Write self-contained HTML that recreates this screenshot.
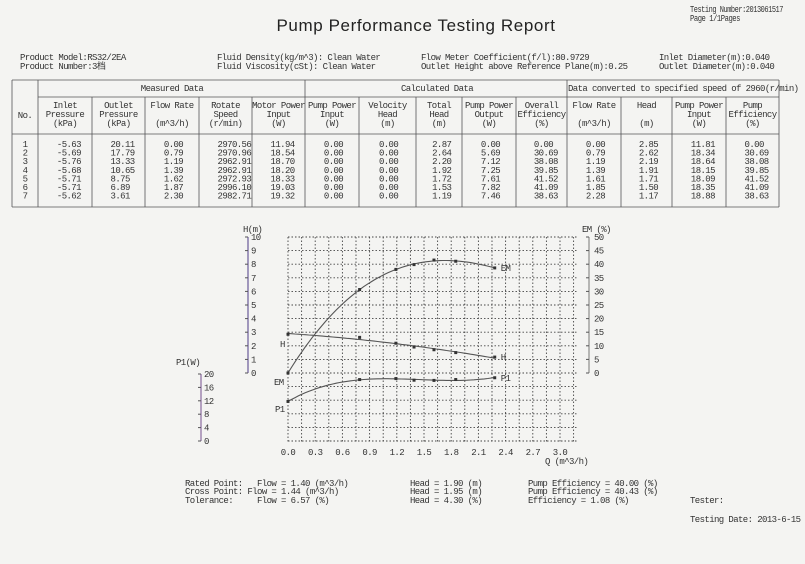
<!DOCTYPE html>
<html><head><meta charset="utf-8"><style>
html,body{margin:0;padding:0;background:#f4f4f2;}
svg{display:block;}
text{font-family:"Liberation Mono","Noto Sans CJK SC",monospace;font-size:9px;letter-spacing:-0.6px;fill:#333;}
.t{font-family:"Liberation Sans",sans-serif;font-size:17px;letter-spacing:0.6px;fill:#222;}
.c{text-anchor:middle;}
</style></head><body>
<svg id="page" width="805" height="564" viewBox="0 0 805 564" xmlns="http://www.w3.org/2000/svg">
<rect width="805" height="564" fill="#f4f4f2"/>
<text class="t" x="416" y="31" text-anchor="middle">Pump Performance Testing Report</text>
<text x="690" y="12" textLength="93" lengthAdjust="spacingAndGlyphs">Testing Number:2013061517</text>
<text x="690" y="21" textLength="50" lengthAdjust="spacingAndGlyphs">Page 1/1Pages</text>
<g>
<text x="20" y="60">Product Model:RS32/2EA</text>
<text x="20" y="69">Product Number:3档</text>
<text x="217" y="60">Fluid Density(kg/m^3): Clean Water</text>
<text x="217" y="69">Fluid Viscosity(cSt): Clean Water</text>
<text x="421" y="60">Flow Meter Coefficient(f/l):80.9729</text>
<text x="421" y="69">Outlet Height above Reference Plane(m):0.25</text>
<text x="659" y="60">Inlet Diameter(m):0.040</text>
<text x="659" y="69">Outlet Diameter(m):0.040</text>
</g>
<g id="table"></g>
<g id="chart"></g>
<g>
<text x="185" y="486" xml:space="preserve">Rated Point:   Flow = 1.40 (m^3/h)</text>
<text x="185" y="494" xml:space="preserve">Cross Point: Flow = 1.44 (m^3/h)</text>
<text x="185" y="503" xml:space="preserve">Tolerance:     Flow = 6.57 (%)</text>
<text x="410" y="486">Head = 1.90 (m)</text>
<text x="410" y="494">Head = 1.95 (m)</text>
<text x="410" y="503">Head = 4.30 (%)</text>
<text x="528" y="486">Pump Efficiency = 40.00 (%)</text>
<text x="528" y="494">Pump Efficiency = 40.43 (%)</text>
<text x="528" y="503">Efficiency = 1.08 (%)</text>
<text x="690" y="503">Tester:</text>
<text x="690" y="522">Testing Date: 2013-6-15</text>
</g>
</svg>
<script>
const NS="http://www.w3.org/2000/svg";
// ---- table data ----
const colHeaders=[["No."],["Inlet","Pressure","(kPa)"],["Outlet","Pressure","(kPa)"],["Flow Rate","","(m^3/h)"],["Rotate","Speed","(r/min)"],["Motor Power","Input","(W)"],["Pump Power","Input","(W)"],["Velocity","Head","(m)"],["Total","Head","(m)"],["Pump Power","Output","(W)"],["Overall","Efficiency","(%)"],["Flow Rate","","(m^3/h)"],["Head","","(m)"],["Pump Power","Input","(W)"],["Pump","Efficiency","(%)"]];
const tableRows=[
["1","-5.63","20.11","0.00","2970.56","11.94","0.00","0.00","2.87","0.00","0.00","0.00","2.85","11.81","0.00"],
["2","-5.69","17.79","0.79","2970.96","18.54","0.00","0.00","2.64","5.69","30.69","0.79","2.62","18.34","30.69"],
["3","-5.76","13.33","1.19","2962.91","18.70","0.00","0.00","2.20","7.12","38.08","1.19","2.19","18.64","38.08"],
["4","-5.68","10.65","1.39","2962.91","18.20","0.00","0.00","1.92","7.25","39.85","1.39","1.91","18.15","39.85"],
["5","-5.71","8.75","1.62","2972.93","18.33","0.00","0.00","1.72","7.61","41.52","1.61","1.71","18.09","41.52"],
["6","-5.71","6.89","1.87","2996.10","19.03","0.00","0.00","1.53","7.82","41.09","1.85","1.50","18.35","41.09"],
["7","-5.62","3.61","2.30","2982.71","19.32","0.00","0.00","1.19","7.46","38.63","2.28","1.17","18.88","38.63"]];
// ---- chart data ----
const flow=[0.00,0.79,1.19,1.39,1.61,1.85,2.28];
const headVals=[2.85,2.62,2.19,1.91,1.71,1.50,1.17];
const effVals=[0.00,30.69,38.08,39.85,41.52,41.09,38.63];
const powerVals=[11.81,18.34,18.64,18.15,18.09,18.35,18.88];
const xTicks=["0.0","0.3","0.6","0.9","1.2","1.5","1.8","2.1","2.4","2.7","3.0"];
const hTicks=[0,1,2,3,4,5,6,7,8,9,10];
const effTicks=[0,5,10,15,20,25,30,35,40,45,50];
const pTicks=[0,4,8,12,16,20];

function el(tag,attrs,parent,txt){const e=document.createElementNS(NS,tag);for(const k in attrs)e.setAttribute(k,attrs[k]);if(txt!==undefined)e.textContent=txt;parent.appendChild(e);return e;}

// table
const tb=document.getElementById('table');
const cx=[12,38,92,145,199,252,305,359,416,462,516,567,621,672,726,779];
const tTop=80,tMid=97,tHb=134,tBot=207;
const ln=(x1,y1,x2,y2)=>el('line',{x1,y1,x2,y2,stroke:'#555','stroke-width':0.8},tb);
ln(12,tTop,779,tTop);ln(12,tBot,779,tBot);ln(38,tMid,779,tMid);ln(12,tHb,779,tHb);
cx.forEach((x,i)=>{const full=(i===0||i===1||i===6||i===11||i===15);ln(x,full?tTop:tMid,x,tBot);});
let t=el('text',{x:172,y:91,class:'c'},tb,'Measured Data');
t=el('text',{x:437,y:91,class:'c'},tb,'Calculated Data');
t=el('text',{x:568,y:91},tb,'Data converted to specified speed of 2960(r/min)');
colHeaders.forEach((h,i)=>{const x=(cx[i]+cx[i+1])/2;
 if(i===0){const e=el('text',{x:x,y:118,class:'c'},tb,'No.');return;}
 h.forEach((s,j)=>{if(!s)return;const e=el('text',{x:x,y:108+j*9,class:'c'},tb,s);
 
 });});
tableRows.forEach((r,ri)=>{r.forEach((v,ci)=>{let x=ci===0?25:cx[ci]+(cx[ci+1]-cx[ci])*0.35;
 const e=el('text',{x:x,y:147+ri*8.6,'text-anchor':ci===0?'middle':'start'},tb,v);
 
 });});

// chart
const ch=document.getElementById('chart');
const X0=288,XS=272/3.0;const xs=q=>X0+q*XS;
const HY=v=>373-v*13.6;const EY=v=>373-v*2.72;const PY=v=>441-v*3.35;
const gTop=237,gBot=442,gR=578;
for(let i=0;i<=21;i++){const x=X0+i*13.6;if(x>gR+1)break;el('line',{x1:x,y1:gTop,x2:x,y2:gBot,stroke:'#444','stroke-width':0.9,'stroke-dasharray':'1.5,2'},ch);}
for(let j=0;j<=15;j++){const y=gTop+j*13.6;el('line',{x1:X0,y1:y,x2:gR,y2:y,stroke:'#444','stroke-width':0.9,'stroke-dasharray':'1.5,2'},ch);}
xTicks.forEach(s=>{const e=el('text',{x:xs(parseFloat(s)),y:455,class:'c'},ch,s);});
t=el('text',{x:545,y:464},ch,'Q (m^3/h)');
// H axis
el('line',{x1:248,y1:HY(10),x2:248,y2:HY(0),stroke:'#6a5a9a','stroke-width':1.2},ch);
hTicks.forEach(v=>{el('line',{x1:245,y1:HY(v),x2:248,y2:HY(v),stroke:'#555'},ch);const e=el('text',{x:251,y:HY(v)+3},ch,String(v));});
t=el('text',{x:243,y:232},ch,'H(m)');
// EM axis
el('line',{x1:589,y1:EY(50),x2:589,y2:EY(0),stroke:'#777','stroke-width':1},ch);
effTicks.forEach(v=>{el('line',{x1:586,y1:EY(v),x2:589,y2:EY(v),stroke:'#555'},ch);const e=el('text',{x:594,y:EY(v)+3},ch,String(v));});
t=el('text',{x:582,y:232},ch,'EM (%)');
// P1 axis
el('line',{x1:201,y1:PY(20),x2:201,y2:PY(0),stroke:'#8a6aa0','stroke-width':1.2},ch);
pTicks.forEach(v=>{el('line',{x1:198,y1:PY(v),x2:201,y2:PY(v),stroke:'#555'},ch);const e=el('text',{x:204,y:PY(v)+3},ch,String(v));});
t=el('text',{x:176,y:365},ch,'P1(W)');

function fit(xv,yv,d){const n=d+1;const A=[];for(let i=0;i<n;i++){A.push(new Array(n+1).fill(0));}
 for(let k=0;k<xv.length;k++){for(let i=0;i<n;i++){for(let j=0;j<n;j++)A[i][j]+=Math.pow(xv[k],i+j);A[i][n]+=yv[k]*Math.pow(xv[k],i);}}
 for(let i=0;i<n;i++){let p=i;for(let r=i+1;r<n;r++)if(Math.abs(A[r][i])>Math.abs(A[p][i]))p=r;const tmp=A[i];A[i]=A[p];A[p]=tmp;
  for(let r=0;r<n;r++){if(r===i)continue;const f=A[r][i]/A[i][i];for(let c=i;c<=n;c++)A[r][c]-=f*A[i][c];}}
 const co=A.map((r,i)=>r[n]/r[i]);return x=>co.reduce((s,c,i)=>s+c*Math.pow(x,i),0);}
function series(vals,ymap,name,deg,endLbl,startLbl){
 const f=fit(flow,vals,deg);let d='';const xmax=flow[flow.length-1];
 for(let i=0;i<=60;i++){const q=xmax*i/60;d+=(i?'L':'M')+xs(q).toFixed(1)+','+ymap(f(q)).toFixed(1);}
 const p=el('path',{d:d,fill:'none',stroke:'#555','stroke-width':1.1},ch);
 
 
 flow.forEach((q,i)=>{const m=el('rect',{x:xs(q)-1.5,y:ymap(vals[i])-1.5,width:3,height:3,fill:'#333'},ch);
  
  });
 let e=el('text',{x:xs(xmax)+6,y:ymap(vals[vals.length-1])+3},ch,endLbl);
 
 
 e=el('text',{x:startLbl[0],y:startLbl[1]},ch,endLbl);
 
 }
series(effVals,EY,'efficiency',3,'EM',[274,385]);
series(headVals,HY,'head',2,'H',[280,347]);
series(powerVals,PY,'power',3,'P1',[275,412]);
</script>
</body></html>
